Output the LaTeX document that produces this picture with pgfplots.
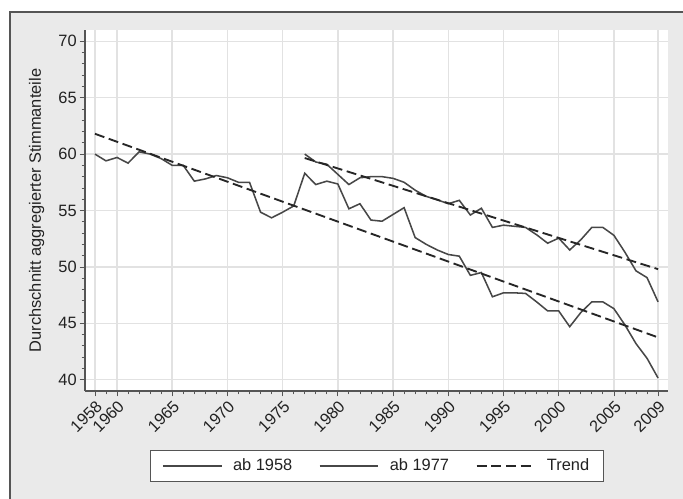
\documentclass[border=0pt]{standalone}
\usepackage{pgfplots}
\pgfplotsset{compat=1.18}
\usepackage{fontspec}
\setmainfont{Liberation Sans}
\definecolor{bg}{HTML}{EAEAEA}
\definecolor{gridc}{HTML}{E2E2E2}
\definecolor{linec}{HTML}{474747}
\definecolor{axc}{HTML}{555555}
\definecolor{txt}{HTML}{222222}

\pgfplotstableread{
year val
1958 60.0
1959 59.4
1960 59.7
1961 59.2
1962 60.2
1963 60.0
1964 59.6
1965 59.0
1966 59.0
1967 57.6
1968 57.8
1969 58.1
1970 57.9
1971 57.5
1972 57.5
1973 54.85
1974 54.35
1975 54.85
1976 55.4
1977 58.3
1978 57.3
1979 57.6
1980 57.35
1981 55.15
1982 55.6
1983 54.15
1984 54.05
1985 54.65
1986 55.25
1987 52.6
1988 52.0
1989 51.5
1990 51.1
1991 50.95
1992 49.25
1993 49.5
1994 47.35
1995 47.7
1996 47.7
1997 47.65
1998 46.9
1999 46.1
2000 46.1
2001 44.7
2002 45.95
2003 46.9
2004 46.9
2005 46.3
2006 44.85
2007 43.2
2008 41.9
2009 40.15
}\abfiftyeight

\pgfplotstableread{
year val
1977 60.0
1978 59.3
1979 59.1
1980 58.2
1981 57.3
1982 57.9
1983 58.0
1984 58.0
1985 57.85
1986 57.5
1987 56.8
1988 56.25
1989 55.95
1990 55.6
1991 55.9
1992 54.6
1993 55.2
1994 53.5
1995 53.7
1996 53.6
1997 53.5
1998 52.85
1999 52.1
2000 52.55
2001 51.5
2002 52.4
2003 53.5
2004 53.5
2005 52.8
2006 51.3
2007 49.65
2008 49.05
2009 46.9
}\absevenseven

\begin{document}
\begin{tikzpicture}[x=0.75pt,y=0.75pt]
\fill[white] (0,0) rectangle (683,499);
\fill[bg] (10,-10) rectangle (700,487);
\draw[axc, line width=1.2pt] (10,-10) -- (10,487) -- (700,487);
\begin{axis}[
  at={(63.75pt,81pt)}, anchor=south west, scale only axis,
  width=437.25pt, height=270.75pt,
  xmin=1957.1, xmax=2009.9, ymin=39, ymax=71,
  axis x line*=bottom, axis y line*=left,
  axis line style={axc, line width=0.8pt, -},
  axis background/.style={fill=white},
  xtick={1958,1960,1965,1970,1975,1980,1985,1990,1995,2000,2005,2009},
  minor xtick={1959,1961,1962,1963,1964,1966,1967,1968,1969,1971,1972,1973,1974,1976,1977,1978,1979,1981,1982,1983,1984,1986,1987,1988,1989,1991,1992,1993,1994,1996,1997,1998,1999,2001,2002,2003,2004,2006,2007,2008},
  ytick={40,45,50,55,60,65,70},
  minor ytick={41,42,43,44,46,47,48,49,51,52,53,54,56,57,58,59,61,62,63,64,66,67,68,69},
  xmajorgrids, ymajorgrids,
  major grid style={gridc, line width=1.1pt},
  tick align=outside,
  major tick length=4pt, minor tick length=2.5pt,
  every tick/.style={axc, line width=0.6pt},
  tick label style={font=\fontsize{12.3}{14}\selectfont, text=txt},
  /pgf/number format/assume math mode=true,
  /pgf/number format/1000 sep={},
  x tick label style={rotate=45, anchor=north east, inner sep=1.5pt},
  y tick label style={anchor=east, inner sep=2pt},
  ylabel={Durchschnitt aggregierter Stimmanteile},
  every axis y label/.style={at={(axis description cs:-0.083,0.5)}, rotate=90, anchor=center, font=\fontsize{12.3}{14}\selectfont, text=txt},
  legend columns=3,
  legend style={at={(axis description cs:0.5009,-0.1634)}, anchor=north,
    draw=axc, line width=0.6pt, fill=white, font=\fontsize{12.3}{14}\selectfont, text=txt,
    inner xsep=9pt, inner ysep=4.5pt,
    /tikz/every odd column/.append style={column sep=6pt},
    /tikz/every even column/.append style={column sep=18pt}},
  legend cell align=left,
  legend image code/.code={\draw[#1] (0pt,0pt) -- (44pt,0pt);},
]
\addplot[linec, line width=1.15pt] table[x=year,y=val] {\abfiftyeight};
\addlegendentry{ab 1958}
\addplot[linec, line width=1.15pt] table[x=year,y=val] {\absevenseven};
\addlegendentry{ab 1977}
\addplot[black!85, line width=1.4pt, dash pattern=on 7.5pt off 3.5pt] coordinates {(1958,61.8) (2009,43.75)};
\addlegendentry{Trend}
\addplot[black!85, line width=1.4pt, dash pattern=on 7.5pt off 3.5pt, forget plot] coordinates {(1977,59.65) (2009,49.8)};
\end{axis}
\pgfresetboundingbox
\useasboundingbox (0,0) rectangle (683,499);
\end{tikzpicture}
\end{document}
